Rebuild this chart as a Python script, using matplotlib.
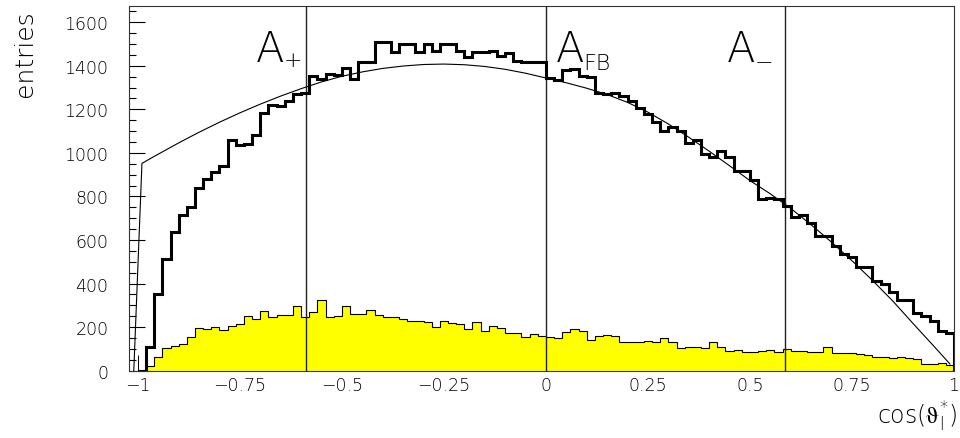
import numpy as np
import matplotlib
matplotlib.use('Agg')
import matplotlib.pyplot as plt

# histogram contents, 100 bins of width 0.02 on [-1, 1]
thick = [0, 107, 352, 513, 635, 715, 750, 838, 880, 914,
         941, 1059, 1038, 1042, 1082, 1183, 1220, 1217, 1240, 1269,
         1274, 1355, 1340, 1362, 1358, 1390, 1340, 1416, 1416, 1511,
         1511, 1462, 1500, 1500, 1465, 1500, 1470, 1500, 1500, 1470,
         1439, 1465, 1465, 1468, 1447, 1460, 1424, 1419, 1419, 1419,
         1344, 1335, 1381, 1385, 1352, 1349, 1274, 1271, 1274, 1260,
         1240, 1205, 1179, 1141, 1102, 1118, 1102, 1046, 1061, 995,
         983, 1010, 983, 919, 919, 876, 789, 791, 789, 758,
         704, 715, 677, 620, 617, 574, 536, 521, 478, 478,
         413, 398, 360, 325, 325, 265, 253, 228, 181, 172]

yellow = [0, 23, 61, 103, 112, 123, 153, 195, 193, 202,
          188, 207, 214, 253, 237, 273, 245, 256, 258, 296,
          245, 271, 326, 248, 250, 299, 260, 260, 279, 257,
          245, 245, 237, 230, 230, 222, 199, 230, 218, 214,
          191, 225, 184, 204, 195, 173, 172, 153, 168, 158,
          156, 151, 176, 191, 183, 142, 161, 164, 158, 130,
          130, 133, 136, 130, 152, 130, 103, 107, 110, 105,
          130, 107, 89, 97, 88, 88, 92, 97, 88, 100,
          92, 90, 88, 86, 107, 82, 80, 80, 76, 72,
          65, 62, 60, 63, 58, 55, 32, 30, 35, 25]

# thin curve
curve_x = [-1.01, -0.99, -0.96, -0.90, -0.85, -0.80, -0.75, -0.70, -0.65, -0.60,
           -0.55, -0.50, -0.45, -0.40, -0.35, -0.30, -0.25, -0.20, -0.15, -0.10,
           -0.05, 0.00, 0.05, 0.10, 0.15, 0.20, 0.25, 0.30, 0.35, 0.40,
           0.45, 0.50, 0.55, 0.60, 0.65, 0.70, 0.75, 0.80, 0.85, 0.90,
           0.95, 0.99]
curve_y = [0, 952, 984, 1046, 1095, 1141, 1184, 1224, 1261, 1295,
           1326, 1352, 1372, 1388, 1399, 1406, 1408, 1405, 1397, 1384,
           1366, 1344, 1322, 1297, 1268, 1232, 1187, 1133, 1072, 1008,
           941, 873, 812, 745, 670, 590, 505, 415, 320, 216,
           114, 31]

spike_x = -1.0
spike_y = 72

cuts = [-0.587, 0.0, 0.587]
yticks = [0, 200, 400, 600, 800, 1000, 1200, 1400, 1600]
xticks = [-1, -0.75, -0.5, -0.25, 0, 0.25, 0.5, 0.75, 1]
xticklabels = ['\u22121', '\u22120.75', '\u22120.5', '\u22120.25', '0',
               '0.25', '0.5', '0.75', '1']

plt.rcParams['font.family'] = ['DejaVu Sans']
plt.rcParams['font.weight'] = 'light'
plt.rcParams['mathtext.fontset'] = 'custom'
plt.rcParams['mathtext.rm'] = 'DejaVu Sans:light'
plt.rcParams['mathtext.it'] = 'DejaVu Sans:light'

edges = np.linspace(-1, 1, len(thick) + 1)

fig = plt.figure(figsize=(9.6, 4.39), dpi=100)
ax = fig.add_axes([129.3 / 960, 1 - 371.7 / 439, (954 - 129.3) / 960, (371.7 - 6.7) / 439])

ax.stairs(yellow, edges, fill=True, color='#ffff00', zorder=1)
ax.stairs(yellow, edges, color='black', lw=0.8, zorder=2)
for c in cuts:
    ax.axvline(c, color='#222222', lw=1.0, zorder=3)
ax.vlines(spike_x, 0, spike_y, color='black', lw=0.7, zorder=3)
ax.plot(curve_x, curve_y, color='black', lw=0.8, zorder=4)
ax.stairs(thick, edges, color='black', lw=2.2, zorder=5)

ax.set_xlim(-1.021, 1.0)
ax.set_ylim(0, 1676)

ax.set_yticks(yticks)
ax.set_yticks(np.arange(0, 1676, 50), minor=True)
ax.tick_params(axis='y', which='major', direction='in', length=11.3, width=0.8,
               pad=15, labelsize=12.5)
ax.tick_params(axis='y', which='minor', direction='in', length=5.3, width=0.8)
ax.set_xticks(xticks)
ax.set_xticklabels(xticklabels)
ax.tick_params(axis='x', length=0, pad=4, labelsize=12.5)
for s in ax.spines.values():
    s.set_color('#333333')
    s.set_linewidth(0.8)

# asymmetry labels
ax.text(-0.711, 1424, 'A', fontsize=30, ha='left', va='baseline')
ax.text(-0.642, 1425, '+', fontsize=16, ha='left', va='center')
ax.text(0.0245, 1424, 'A', fontsize=30, ha='left', va='baseline')
ax.text(0.0907, 1386, 'FB', fontsize=16, ha='left', va='baseline')
ax.text(0.4436, 1424, 'A', fontsize=30, ha='left', va='baseline')
ax.text(0.512, 1422, '\u2212', fontsize=16, ha='left', va='center')

fig.text(25 / 960, 1 - 10 / 439, 'entries', rotation=90, fontsize=18,
         ha='center', va='top')
fig.text(957 / 960, 1 - 425 / 439, 'cos($\\mathrm{\u03d1}_\\mathrm{l}^{*}$)', fontsize=17,
         ha='right', va='baseline')

fig.savefig('out.png', dpi=100)
